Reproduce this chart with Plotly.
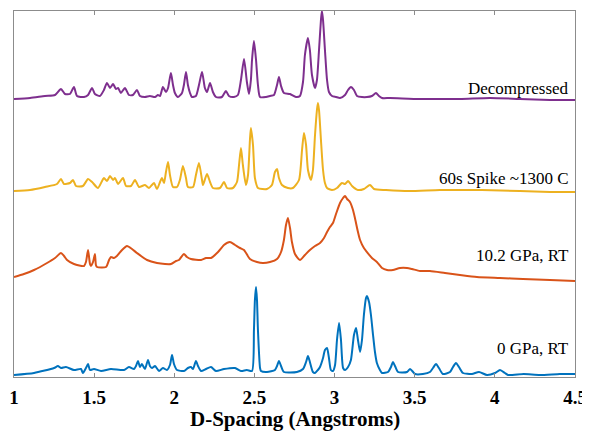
import plotly.graph_objects as go

# ---- Data (D-spacing in Angstroms, stacked intensity in arbitrary units) ----
labels = ["0 GPa, RT", "10.2 GPa, RT", "60s Spike ~1300 C", "Decompressed"]
colors = ["#0072BD", "#D95319", "#EDB120", "#7E2F8E"]
label_y = [29, 122, 199, 289]

d_0gpa = [1.000, 1.125, 1.250, 1.274, 1.293, 1.324, 1.374, 1.418, 1.430, 1.449, 1.462, 1.474, 1.499,
          1.543, 1.605, 1.686, 1.717, 1.749, 1.761, 1.774, 1.786, 1.798, 1.817, 1.836, 1.848, 1.861,
          1.880, 1.905, 1.929, 1.954, 1.973, 1.986, 1.998, 2.017, 2.060, 2.085, 2.104, 2.117, 2.135,
          2.148, 2.167, 2.198, 2.229, 2.260, 2.310, 2.379, 2.416, 2.453, 2.485, 2.497, 2.503, 2.510,
          2.516, 2.522, 2.535, 2.541, 2.578, 2.628, 2.641, 2.653, 2.666, 2.684, 2.765, 2.803, 2.822,
          2.834, 2.846, 2.865, 2.878, 2.896, 2.909, 2.928, 2.940, 2.953, 2.965, 2.977, 2.990, 3.003,
          3.015, 3.028, 3.040, 3.053, 3.065, 3.084, 3.102, 3.121, 3.134, 3.146, 3.159, 3.171, 3.183,
          3.196, 3.202, 3.215, 3.227, 3.240, 3.252, 3.264, 3.283, 3.296, 3.333, 3.352, 3.364, 3.377,
          3.396, 3.452, 3.471, 3.490, 3.502, 3.551, 3.595, 3.614, 3.633, 3.651, 3.676, 3.720, 3.739,
          3.757, 3.776, 3.801, 3.857, 3.901, 3.951, 4.001, 4.032, 4.063, 4.082, 4.180, 4.281, 4.406,
          4.500]
i_0gpa = [2, 4, 9, 11, 9, 10, 7, 8, 4, 9, 13, 7, 8,
          6, 8, 7, 10, 8, 11, 16, 10, 13, 8, 17, 11, 9,
          11, 6, 9, 7, 12, 22, 13, 7, 6, 9, 10, 8, 16,
          11, 6, 8, 10, 6, 8, 9, 6, 7, 6, 47, 77, 90,
          77, 47, 9, 6, 5, 7, 11, 16, 11, 5, 5, 8, 15,
          21, 15, 5, 4, 7, 10, 19, 27, 29, 19, 7, 6, 12,
          37, 54, 37, 9, 7, 10, 17, 42, 49, 37, 25, 37, 62,
          79, 81, 75, 62, 42, 25, 14, 7, 4, 5, 10, 15, 11,
          5, 5, 8, 5, 3, 3, 5, 9, 13, 9, 3, 5, 10,
          14, 10, 4, 3, 5, 2, 4, 7, 4, 2, 3, 2, 3,
          3]

d_10gpa = [1.000, 1.062, 1.125, 1.206, 1.256, 1.293, 1.312, 1.331, 1.374, 1.437, 1.449, 1.462, 1.474,
           1.480, 1.493, 1.505, 1.511, 1.518, 1.574, 1.593, 1.605, 1.624, 1.642, 1.674, 1.705, 1.736,
           1.767, 1.830, 1.892, 1.942, 1.979, 2.011, 2.029, 2.060, 2.079, 2.104, 2.167, 2.198, 2.229,
           2.273, 2.310, 2.347, 2.379, 2.410, 2.435, 2.472, 2.516, 2.553, 2.597, 2.641, 2.666, 2.684,
           2.697, 2.709, 2.722, 2.734, 2.753, 2.784, 2.815, 2.846, 2.878, 2.909, 2.934, 2.953, 2.971,
           2.990, 3.009, 3.034, 3.053, 3.065, 3.078, 3.096, 3.115, 3.127, 3.146, 3.159, 3.183, 3.202,
           3.233, 3.264, 3.296, 3.327, 3.364, 3.408, 3.452, 3.483, 3.533, 3.595, 3.689, 3.782, 3.888,
           4.032, 4.175, 4.344, 4.500]
i_10gpa = [100, 103, 107, 114, 119, 124, 121, 117, 113, 111, 115, 127, 113,
           111, 115, 123, 112, 110, 110, 117, 120, 119, 121, 127, 131, 128,
           124, 117, 114, 113, 113, 116, 117, 123, 120, 118, 117, 119, 119,
           125, 132, 135, 132, 129, 127, 118, 115, 114, 115, 118, 125, 137,
           152, 159, 149, 135, 123, 117, 122, 127, 131, 134, 139, 145, 150,
           154, 163, 174, 179, 181, 178, 175, 167, 159, 145, 137, 129, 125,
           119, 115, 109, 107, 107, 109, 109, 108, 106, 106, 104, 102, 100,
           99, 98, 97, 96]

d_spike = [1.000, 1.100, 1.193, 1.268, 1.293, 1.312, 1.349, 1.368, 1.387, 1.430, 1.462, 1.487, 1.524,
           1.561, 1.580, 1.599, 1.618, 1.630, 1.649, 1.680, 1.699, 1.730, 1.755, 1.780, 1.817, 1.842,
           1.873, 1.892, 1.911, 1.923, 1.936, 1.948, 1.961, 1.973, 1.992, 2.017, 2.035, 2.054, 2.073,
           2.085, 2.117, 2.135, 2.154, 2.173, 2.179, 2.204, 2.223, 2.241, 2.285, 2.310, 2.329, 2.366,
           2.391, 2.404, 2.416, 2.428, 2.447, 2.460, 2.472, 2.478, 2.491, 2.503, 2.522, 2.578, 2.609,
           2.628, 2.641, 2.653, 2.672, 2.709, 2.740, 2.778, 2.797, 2.809, 2.822, 2.834, 2.853, 2.865,
           2.878, 2.890, 2.896, 2.903, 2.915, 2.928, 2.940, 2.953, 2.984, 3.015, 3.046, 3.065, 3.084,
           3.109, 3.146, 3.183, 3.221, 3.246, 3.321, 3.465, 3.657, 3.919, 4.156, 4.344, 4.500]
i_spike = [186, 187, 190, 193, 198, 193, 194, 197, 191, 191, 198, 195, 189,
           199, 196, 201, 197, 199, 193, 199, 191, 191, 197, 190, 192, 189,
           194, 188, 195, 199, 194, 205, 215, 202, 190, 190, 197, 211, 199,
           190, 190, 202, 214, 197, 192, 203, 195, 189, 189, 195, 189, 189,
           195, 212, 229, 212, 192, 202, 237, 249, 232, 199, 189, 188, 192,
           205, 208, 199, 192, 189, 189, 197, 227, 244, 232, 207, 197, 207,
           242, 267, 274, 267, 237, 207, 194, 189, 187, 189, 194, 193, 196,
           191, 187, 188, 192, 188, 187, 186, 187, 187, 186, 185, 185]

d_decomp = [1.000, 1.100, 1.193, 1.256, 1.293, 1.318, 1.349, 1.374, 1.393, 1.437, 1.462, 1.487, 1.505,
            1.536, 1.561, 1.580, 1.599, 1.618, 1.636, 1.649, 1.667, 1.692, 1.717, 1.742, 1.767, 1.786,
            1.817, 1.848, 1.880, 1.898, 1.911, 1.929, 1.948, 1.961, 1.979, 1.992, 2.004, 2.023, 2.048,
            2.060, 2.073, 2.085, 2.098, 2.110, 2.135, 2.154, 2.173, 2.191, 2.204, 2.223, 2.241, 2.260,
            2.297, 2.322, 2.341, 2.372, 2.397, 2.416, 2.435, 2.453, 2.466, 2.478, 2.485, 2.497, 2.510,
            2.522, 2.535, 2.572, 2.597, 2.622, 2.641, 2.653, 2.666, 2.684, 2.722, 2.759, 2.784, 2.803,
            2.815, 2.834, 2.846, 2.859, 2.878, 2.890, 2.903, 2.915, 2.921, 2.928, 2.940, 2.953, 2.965,
            2.984, 3.009, 3.034, 3.065, 3.084, 3.102, 3.121, 3.140, 3.171, 3.202, 3.233, 3.258, 3.277,
            3.296, 3.346, 3.533, 3.782, 3.969, 4.156, 4.344, 4.500]
i_decomp = [278, 279, 281, 282, 288, 283, 283, 290, 281, 280, 282, 289, 283,
            281, 287, 294, 289, 293, 288, 289, 284, 289, 282, 282, 287, 281,
            280, 281, 280, 282, 281, 290, 285, 289, 304, 292, 284, 280, 284,
            292, 305, 292, 284, 280, 281, 292, 305, 289, 285, 294, 285, 280,
            280, 286, 281, 280, 282, 297, 318, 295, 283, 297, 317, 336, 317,
            292, 280, 280, 281, 282, 292, 300, 291, 284, 283, 280, 281, 295,
            322, 339, 327, 302, 289, 297, 327, 357, 366, 357, 327, 297, 285,
            281, 280, 279, 282, 287, 290, 287, 281, 280, 280, 281, 284, 281,
            279, 279, 278, 278, 279, 278, 277, 277]

series_d = [d_0gpa, d_10gpa, d_spike, d_decomp]
series_i = [i_0gpa, i_10gpa, i_spike, i_decomp]

x_ticks = [1, 1.5, 2, 2.5, 3, 3.5, 4, 4.5]
x_tick_text = ["1", "1.5", "2", "2.5", "3", "3.5", "4", "4.5"]
x_title = "D-Spacing (Angstroms)"

FONT = "Liberation Serif"

fig = go.Figure()
for d, inten, col, name in zip(series_d, series_i, colors, labels):
    fig.add_trace(go.Scatter(x=d, y=inten, mode="lines", name=name,
                             line=dict(color=col, width=2, shape="spline", smoothing=0.6),
                             showlegend=False, hoverinfo="skip"))

for name, yv in zip(labels, label_y):
    fig.add_annotation(x=4.472, y=yv, xref="x", yref="y", text=name, showarrow=False,
                       xanchor="right", yanchor="middle",
                       font=dict(family=FONT, size=17, color="#000000"))

# axis title as a paper-anchored annotation below the tick labels
fig.add_annotation(x=0.5, y=-0.114, xref="paper", yref="paper", text="<b>" + x_title + "</b>",
                   showarrow=False, xanchor="center", yanchor="middle",
                   font=dict(family=FONT, size=21, color="#000000"))

# the page body adds an 8px offset; margins compensate for it
fig.update_layout(
    width=590, height=434,
    margin=dict(l=6, r=23, t=3, b=65, autoexpand=False),
    paper_bgcolor="white", plot_bgcolor="white",
    font=dict(family=FONT, color="#000000"),
)
fig.update_xaxes(range=[1, 4.5], tickvals=x_ticks, ticktext=x_tick_text, automargin=False,
                 ticks="inside", ticklen=4, tickcolor="#8c8c8c", tickwidth=1,
                 ticklabelstandoff=3,
                 showline=True, linecolor="#8c8c8c", linewidth=1, mirror="ticks",
                 showgrid=False, zeroline=False,
                 tickfont=dict(family=FONT, size=19, color="#000000", weight="bold"))
fig.update_yaxes(range=[0, 366], showticklabels=False, ticks="", automargin=False,
                 showline=True, linecolor="#8c8c8c", linewidth=1, mirror=True,
                 showgrid=False, zeroline=False)

fig.write_html("out.html")
